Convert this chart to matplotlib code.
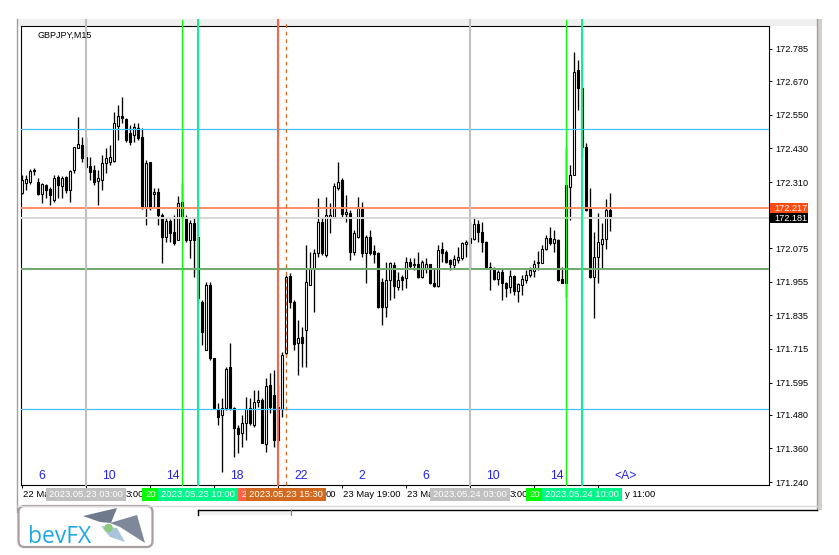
import matplotlib
matplotlib.use("Agg")
import matplotlib.pyplot as plt
from matplotlib.patches import Rectangle, Polygon, FancyBboxPatch, Circle
from matplotlib.transforms import blended_transform_factory
import numpy as np

plt.rcParams['font.family'] = ['Liberation Sans', 'DejaVu Sans']

# ---------------- data (GBPJPY M15, bar 0 = 2023.05.22 23:00) ----------------
symbol_label = "GBPJPY,M15"
opens = [172.271, 172.307, 172.311, 172.350, 172.311, 172.268, 172.300, 172.286, 172.246, 172.328,
         172.296, 172.328, 172.282, 172.353, 172.432, 172.443, 172.400, 172.368, 172.353, 172.314,
         172.318, 172.378, 172.382, 172.385, 172.510, 172.546, 172.535, 172.485, 172.478, 172.503,
         172.471, 172.221, 172.382, 172.268, 172.275, 172.193, 172.114, 172.171, 172.132, 172.104,
         172.239, 172.182, 172.104, 172.164, 172.114, 171.882, 171.711, 171.943, 171.683, 171.501,
         171.479, 171.504, 171.651, 171.504, 171.433, 171.415, 171.451, 171.504, 171.444, 171.526,
         171.533, 171.376, 171.586, 171.551, 171.390, 171.501, 171.701, 171.975, 171.882, 171.736,
         171.758, 171.783, 171.943, 172.004, 172.057, 172.168, 172.050, 172.186, 172.186, 172.289,
         172.318, 172.196, 172.200, 172.061, 172.114, 172.214, 172.057, 172.114, 172.064, 172.057,
         171.954, 171.865, 171.961, 172.015, 171.936, 171.972, 171.968, 172.025, 172.015, 172.018,
         171.972, 172.004, 172.018, 171.950, 171.940, 172.072, 172.061, 172.032, 172.015, 172.032,
         172.039, 172.089, 172.093, 172.107, 172.161, 172.132, 172.097, 172.000, 172.004, 171.965,
         171.990, 171.950, 171.936, 171.975, 171.922, 171.943, 171.961, 171.979, 171.993, 172.022,
         172.022, 172.072, 172.111, 172.093, 172.104, 171.965, 171.950, 172.293, 172.336, 172.710,
         172.646, 172.435, 172.218, 171.972, 172.043, 172.089, 172.107, 172.211]
highs = [172.335, 172.335, 172.357, 172.360, 172.325, 172.307, 172.304, 172.293, 172.335, 172.335,
         172.332, 172.332, 172.353, 172.435, 172.543, 172.471, 172.471, 172.400, 172.371, 172.353,
         172.407, 172.432, 172.443, 172.560, 172.585, 172.614, 172.539, 172.514, 172.521, 172.521,
         172.503, 172.389, 172.382, 172.289, 172.289, 172.200, 172.186, 172.179, 172.193, 172.261,
         172.307, 172.193, 172.175, 172.182, 172.114, 171.890, 171.954, 171.954, 171.683, 171.522,
         171.540, 171.651, 171.736, 171.508, 171.444, 171.479, 171.544, 171.540, 171.569, 171.569,
         171.540, 171.611, 171.629, 171.640, 171.586, 171.704, 171.979, 171.986, 171.890, 171.818,
         171.793, 172.086, 172.061, 172.072, 172.254, 172.182, 172.257, 172.236, 172.307, 172.382,
         172.325, 172.264, 172.211, 172.139, 172.257, 172.239, 172.121, 172.139, 172.086, 172.061,
         171.968, 172.025, 172.025, 172.025, 171.990, 171.979, 172.043, 172.040, 172.040, 172.061,
         172.032, 172.040, 172.018, 172.004, 172.086, 172.097, 172.068, 172.036, 172.050, 172.079,
         172.097, 172.104, 172.168, 172.186, 172.175, 172.168, 172.100, 172.025, 172.007, 171.997,
         172.004, 171.954, 171.997, 171.979, 171.950, 171.979, 171.997, 172.007, 172.032, 172.064,
         172.086, 172.121, 172.150, 172.139, 172.107, 172.007, 172.435, 172.371, 172.774, 172.746,
         172.650, 172.450, 172.289, 172.132, 172.200, 172.164, 172.250, 172.271]
lows = [172.268, 172.282, 172.304, 172.335, 172.264, 172.236, 172.253, 172.229, 172.239, 172.253,
        172.253, 172.271, 172.239, 172.343, 172.432, 172.382, 172.360, 172.318, 172.300, 172.229,
        172.282, 172.343, 172.371, 172.382, 172.460, 172.521, 172.453, 172.442, 172.453, 172.460,
        172.214, 172.157, 172.211, 172.218, 172.157, 172.022, 172.097, 172.097, 172.086, 172.104,
        172.182, 172.097, 172.039, 171.972, 171.879, 171.729, 171.711, 171.676, 171.504, 171.444,
        171.276, 171.497, 171.497, 171.329, 171.344, 171.365, 171.390, 171.444, 171.437, 171.508,
        171.379, 171.347, 171.486, 171.365, 171.383, 171.472, 171.693, 171.861, 171.711, 171.622,
        171.651, 171.651, 171.943, 171.847, 172.043, 172.050, 172.043, 172.129, 172.182, 172.282,
        172.186, 172.168, 172.032, 172.050, 172.111, 172.043, 171.950, 172.050, 172.022, 171.861,
        171.800, 171.829, 171.890, 171.897, 171.925, 171.925, 171.932, 172.004, 171.997, 171.968,
        171.968, 171.986, 171.947, 171.936, 171.936, 172.025, 172.022, 171.997, 172.004, 172.022,
        172.032, 172.043, 171.997, 172.104, 172.097, 172.061, 172.000, 171.925, 171.961, 171.943,
        171.890, 171.900, 171.915, 171.907, 171.882, 171.907, 171.950, 171.972, 171.972, 171.997,
        172.022, 172.068, 172.086, 172.061, 171.957, 171.950, 171.900, 172.175, 172.336, 172.568,
        172.400, 172.207, 171.968, 171.825, 171.950, 172.000, 172.072, 172.136]
closes = [172.318, 172.321, 172.350, 172.353, 172.268, 172.304, 172.282, 172.264, 172.325, 172.300,
          172.325, 172.282, 172.350, 172.435, 172.446, 172.396, 172.364, 172.346, 172.311, 172.325,
          172.378, 172.396, 172.400, 172.521, 172.546, 172.539, 172.460, 172.453, 172.507, 172.468,
          172.218, 172.378, 172.218, 172.275, 172.193, 172.114, 172.171, 172.129, 172.093, 172.236,
          172.182, 172.104, 172.164, 172.104, 171.897, 171.775, 171.943, 171.683, 171.504, 171.472,
          171.504, 171.643, 171.504, 171.433, 171.411, 171.451, 171.501, 171.451, 171.526, 171.533,
          171.379, 171.583, 171.508, 171.390, 171.508, 171.693, 171.972, 171.882, 171.733, 171.754,
          171.736, 171.954, 172.004, 172.057, 172.168, 172.057, 172.193, 172.193, 172.296, 172.311,
          172.196, 172.204, 172.061, 172.129, 172.218, 172.057, 172.114, 172.057, 172.054, 171.865,
          171.865, 171.961, 172.022, 171.940, 171.961, 171.961, 172.025, 172.011, 172.018, 171.972,
          172.025, 172.018, 171.950, 171.940, 172.068, 172.057, 172.025, 172.018, 172.036, 172.043,
          172.093, 172.097, 172.111, 172.161, 172.132, 172.097, 172.004, 172.007, 171.965, 171.990,
          171.950, 171.932, 171.975, 171.922, 171.947, 171.965, 171.979, 171.997, 172.018, 172.025,
          172.072, 172.111, 172.093, 172.107, 171.961, 171.950, 172.300, 172.336, 172.703, 172.646,
          172.435, 172.211, 171.972, 172.043, 172.097, 172.107, 172.211, 172.182]

price_ticks = [172.785, 172.670, 172.550, 172.430, 172.310, 172.075, 171.955,
               171.835, 171.715, 171.595, 171.480, 171.360, 171.240]
time_tick_bars = [0, 16, 32, 48, 64, 80, 96, 112, 128, 144]
time_tick_labels = ["22 May 23:00", "23 May 03:00", "23 May 07:00", "23 May 11:00",
                    "23 May 15:00", "23 May 19:00", "23 May 23:00", "24 May 03:00",
                    "24 May 07:00", "24 May 11:00"]
# parts of the time labels left uncovered by the line-label boxes
time_tick_visible = ["22 Ma", "3:00", "", "", "00", "23 May 19:00", "23 Ma", "3:00", "", "y 11:00"]
hour_bars = [4, 20, 36, 52, 68, 84, 100, 116, 132, 148]
hour_labels = ["6", "10", "14", "18", "22", "2", "6", "10", "14", "<A>"]

hlevels = [172.500, 172.217, 172.181, 172.000, 171.500]
hcolors = ["#45C0FF", "#FF8A6A", "#D6D6D6", "#72AA72", "#45C0FF"]
hwidths = [0.9, 1.4, 1.4, 1.5, 0.9]

vline_bars = [16, 40, 44, 64, 66, 112, 136, 140]
vline_colors = ["#C0C0C0", "#00FF00", "#00F58A", "#FF6347", "#D2691E", "#C0C0C0", "#00FF00", "#00F58A"]
vline_widths = [1.5, 0.9, 1.4, 1.5, 0.9, 1.5, 0.9, 1.4]
vline_styles = ["-", "-", "-", "-", (0, (3, 3)), "-", "-", "-"]
vline_labels = ["2023.05.23 03:00", "2023.05.23 09:00", "2023.05.23 10:00", "2023.05.23 15:00",
                "2023.05.23 15:30", "2023.05.24 03:00", "2023.05.24 09:00", "2023.05.24 10:00"]
vline_visible = ["2023.05.23 03:00", "20", "2023.05.23 10:00", "2",
                 "2023.05.23 15:30", "2023.05.24 03:00", "20", "2023.05.24 10:00"]

bid_price = 172.181
ask_price = 172.217

# ---------------- figure ----------------
W, H = 839, 555
fig = plt.figure(figsize=(W / 100, H / 100), dpi=100)
fig.patch.set_facecolor("white")
renderer = fig.canvas.get_renderer()

bg = fig.add_axes([0, 0, 1, 1], zorder=0)
bg.set_xlim(0, W)
bg.set_ylim(H, 0)
bg.axis("off")

# window chrome
bg.add_patch(Rectangle((17, 19), 804, 7, facecolor="#F0F0F0", edgecolor="none"))
bg.plot([17, 17], [19, 512], color="#A0A0A0", lw=1)
bg.plot([817, 817], [19, 510], color="#A0A0A0", lw=1)
bg.add_patch(Rectangle((818, 19), 3.5, 491, facecolor="#D4D0C8", edgecolor="none"))
bg.plot([17, 817], [505.5, 505.5], color="#DADADA", lw=1)
bg.plot([198, 817], [509.5, 509.5], color="black", lw=1)
bg.plot([198, 198], [509.5, 515], color="black", lw=1)
bg.add_patch(Rectangle((199, 510), 92, 5, facecolor="#F0F0F0", edgecolor="none"))
bg.plot([291, 291], [510, 515], color="#808080", lw=0.8)

# logo
bg.add_patch(FancyBboxPatch((18.5, 506), 134, 41, boxstyle="round,pad=0,rounding_size=6",
                            facecolor="white", edgecolor="#A89E9E", lw=1.6))
bg.text(28, 543, "bevFX", color="#1EA8E6", fontsize=16.5, family=["Open Sans", "DejaVu Sans"],
        ha="left", va="baseline")
bg.add_patch(Polygon([(83, 516), (117, 508), (111, 523), (100, 522)], closed=True,
                     facecolor="#6F7A8C", edgecolor="none"))
bg.add_patch(Polygon([(110, 523), (137, 515), (145, 543), (120, 527)], closed=True,
                     facecolor="#7F8898", edgecolor="none"))
bg.add_patch(Polygon([(101, 526), (117, 528), (125, 542), (110, 537)], closed=True,
                     facecolor="#A9C4DC", edgecolor="none"))
bg.add_patch(Circle((108.5, 528), 4.3, facecolor="#8CC97C", edgecolor="none"))

# top-left symbol marker and shift marker
bg.add_patch(Polygon([(25, 32.5), (32, 32.5), (28.5, 36.5)], closed=True, facecolor="black"))
bg.add_patch(Polygon([(613, 26), (626, 26), (619.5, 32)], closed=True, facecolor="#C8C8C8"))

# ---------------- main chart axes ----------------
ax_l, ax_t, ax_r, ax_b = 21, 26, 769, 485
ax = fig.add_axes([ax_l / W, 1 - ax_b / H, (ax_r - ax_l) / W, (ax_b - ax_t) / H], zorder=1)
ax.set_facecolor("white")
px_per_bar = 4.0
x0 = 22
ax.set_xlim((ax_l - x0) / px_per_bar, (ax_r - x0) / px_per_bar)
ax.set_ylim(171.2295, 172.867)
for s in ax.spines.values():
    s.set_color("black")
    s.set_linewidth(0.8)

o = np.array(opens); h = np.array(highs); l = np.array(lows); c = np.array(closes)
idx = np.arange(len(o))
ax.vlines(idx, l, h, color="black", lw=0.95, zorder=3)
up = c >= o
bott = np.minimum(o, c)
hgt = np.maximum(np.abs(c - o), 0.0025)
ax.bar(idx[up], hgt[up], bottom=bott[up], width=0.58, facecolor="white",
       edgecolor="black", lw=0.8, zorder=4)
ax.bar(idx[~up], hgt[~up], bottom=bott[~up], width=0.58, facecolor="black",
       edgecolor="black", lw=0.8, zorder=4)

# horizontal lines
for lev, col, lw in zip(hlevels, hcolors, hwidths):
    ax.axhline(lev, color=col, lw=lw, zorder=5)

# vertical lines (extend above frame into the window band)
for b, col, lw, ls in zip(vline_bars, vline_colors, vline_widths, vline_styles):
    ax.axvline(b, ymin=0, ymax=1 + 6 / (ax_b - ax_t), color=col, lw=lw, ls=ls, zorder=6, clip_on=False)

# y axis on the right
ax.yaxis.tick_right()
ax.set_yticks(price_ticks)
ax.set_yticklabels([f"{p:.3f}" for p in price_ticks])
ax.tick_params(axis="y", length=2.3, width=0.7, pad=2, labelsize=6.6, colors="black")

axh = ax_b - ax_t
axw = ax_r - ax_l
bx = blended_transform_factory(ax.transData, ax.transAxes)
by = blended_transform_factory(ax.transAxes, ax.transData)


def width_in_bars(s, size):
    t = fig.text(0, 0, s, fontsize=size)
    w = t.get_window_extent(renderer).width
    t.remove()
    return w / px_per_bar


# x axis ticks; labels drawn as the visible fragments
ax.set_xticks(time_tick_bars)
ax.set_xticklabels([])
ax.tick_params(axis="x", length=2.3, width=0.7, colors="black")
TFS = 6.8
for b, full, vis in zip(time_tick_bars, time_tick_labels, time_tick_visible):
    if not vis:
        continue
    if full.startswith(vis):
        xpos, ha = b + 0.2, "left"
    else:
        xpos, ha = b + 0.2 + width_in_bars(full, TFS), "right"
    ax.text(xpos, -9.5 / axh, vis, transform=bx, fontsize=TFS, color="black",
            ha=ha, va="center", zorder=3, clip_on=False)

# hour labels (blue)
for b, txt in zip(hour_bars, hour_labels):
    ax.text(b, 6 / axh, txt, transform=bx, color="#2424EE", fontsize=8.8,
            ha="left", va="baseline", zorder=7, clip_on=False)

# vertical-line time labels below the axis (later boxes cover earlier ones)
box_w_bars = 80 / px_per_bar
for k, (b, col, full, vis) in enumerate(zip(vline_bars, vline_colors, vline_labels, vline_visible)):
    ax.add_patch(Rectangle((b - box_w_bars / 2, -16 / axh), box_w_bars, 13 / axh, transform=bx,
                           facecolor=col, edgecolor="none", zorder=8 + 2 * k, clip_on=False))
    if vis == full:
        ax.text(b, -9.5 / axh, full, transform=bx, color="white", fontsize=TFS,
                ha="center", va="center", zorder=9 + 2 * k, clip_on=False)
    else:
        start = b - width_in_bars(full, TFS) / 2
        ax.text(start, -9.5 / axh, vis, transform=bx, color="white", fontsize=TFS,
                ha="left", va="center", zorder=9 + 2 * k, clip_on=False)

# price tags on the right
tag_h = 9.6 * (172.867 - 171.2295) / axh
for price, fc in [(ask_price, "#FF4A10"), (bid_price, "black")]:
    ax.add_patch(Rectangle((1 + 1 / axw, price - tag_h / 2), 38 / axw, tag_h, transform=by,
                           facecolor=fc, edgecolor="none", zorder=30, clip_on=False))
    ax.text(1 + 5 / axw, price, f"{price:.3f}", transform=by, color="white", fontsize=6.6,
            ha="left", va="center", zorder=31, clip_on=False)

# symbol label
ax.text((37 - ax_l) / axw, (ax_b - 35) / axh, symbol_label, transform=ax.transAxes,
        fontsize=6.5, color="black", ha="left", va="center", zorder=9)

fig.savefig("out.png", dpi=100, facecolor="white")
